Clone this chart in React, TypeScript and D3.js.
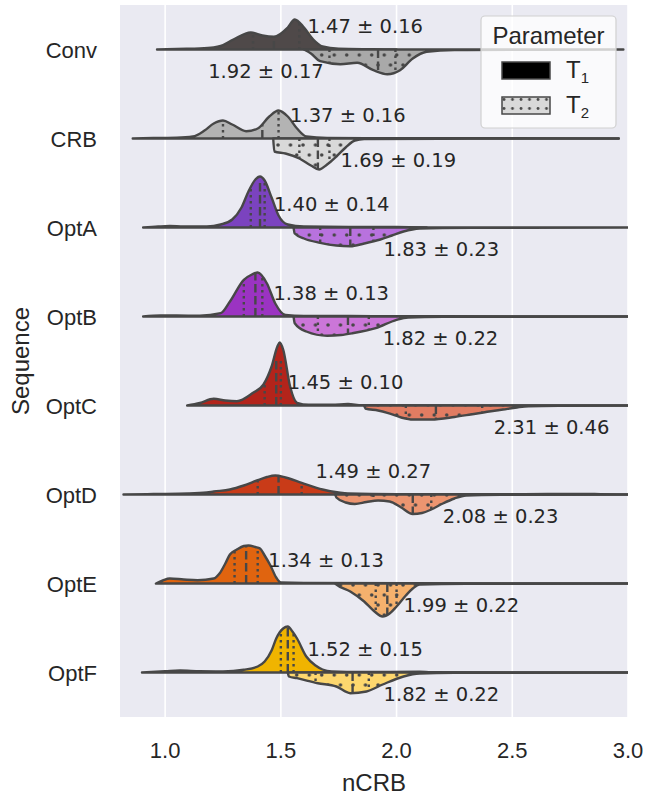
import React from "react";
import * as d3 from "d3";

// ---------- data ----------
const categories = ["Conv", "CRB", "OptA", "OptB", "OptC", "OptD", "OptE", "OptF"];

const t1Means = [1.47, 1.37, 1.4, 1.38, 1.45, 1.49, 1.34, 1.52];
const t1Stds = [0.16, 0.16, 0.14, 0.13, 0.1, 0.27, 0.13, 0.15];
const t2Means = [1.92, 1.69, 1.83, 1.82, 2.31, 2.08, 1.99, 1.82];
const t2Stds = [0.17, 0.19, 0.23, 0.22, 0.46, 0.23, 0.22, 0.22];

// quartiles [Q1, median, Q3]
const t1Quartiles = [
  [1.38, 1.47, 1.58],
  [1.25, 1.42, 1.49],
  [1.37, 1.41, 1.43],
  [1.34, 1.39, 1.42],
  [1.43, 1.48, 1.5],
  [1.4, 1.49, 1.59],
  [1.3, 1.35, 1.4],
  [1.5, 1.53, 1.555],
];
const t2Quartiles = [
  [1.71, 1.92, 1.995],
  [1.58, 1.66, 1.71],
  [1.67, 1.8, 1.9],
  [1.66, 1.79, 1.88],
  [2.04, 2.17, 2.37],
  [1.9, 2.07, 2.15],
  [1.91, 1.96, 2.0],
  [1.65, 1.81, 1.88],
];

// density profiles [nCRB, relative density]
const convT1 = [[0.965, 0], [1.05, 0.6], [1.15, 1.0], [1.21, 2], [1.24, 3.5], [1.295, 10], [1.37, 17], [1.42, 14], [1.47, 12.7], [1.53, 22], [1.56, 30], [1.6, 22], [1.64, 10], [1.68, 3], [1.75, 0.8], [1.9, 0.3], [2.0, 0]];
const convT2 = [[1.6, 0], [1.63, 4], [1.67, 11.7], [1.757, 14.7], [1.83, 13.3], [1.9, 20.7], [1.96, 24.7], [2.015, 20.7], [2.07, 9], [2.13, 2.3], [2.25, 0.6], [2.6, 0.3], [2.98, 0]];
const crbT1 = [[0.86, 0], [0.95, 0.5], [1.05, 0.8], [1.12, 2], [1.17, 8], [1.21, 15], [1.25, 18], [1.29, 14], [1.35, 7.3], [1.4, 10], [1.45, 22], [1.49, 28], [1.53, 22], [1.57, 10], [1.61, 2], [1.7, 0.5], [2.0, 0.3], [2.5, 0.2], [2.96, 0]];
const crbT2 = [[1.467, 0], [1.472, 13], [1.52, 15], [1.58, 20], [1.63, 27], [1.665, 31], [1.7, 26], [1.74, 18], [1.78, 9], [1.82, 2], [1.86, 0.5], [2.2, 0.2], [2.96, 0]];
const optAT1 = [[0.905, 0], [0.97, 1], [1.02, 1.5], [1.08, 1], [1.18, 1], [1.24, 3], [1.29, 8], [1.33, 20], [1.36, 36], [1.39, 48], [1.41, 51], [1.43, 47], [1.46, 30], [1.49, 12], [1.53, 3], [1.6, 1], [1.8, 0.6], [2.0, 0.5], [2.13, 0]];
const optAT2 = [[1.555, 0], [1.56, 6], [1.6, 11], [1.67, 15.3], [1.74, 18], [1.8, 18.7], [1.86, 16], [1.93, 12], [1.98, 8], [2.03, 4], [2.1, 1], [2.2, 0.5], [2.5, 0.3], [3.05, 0]];
const optBT1 = [[0.905, 0], [0.98, 1], [1.05, 1], [1.15, 0.8], [1.24, 3.3], [1.28, 15], [1.34, 36.7], [1.375, 42], [1.4, 44], [1.44, 33], [1.476, 13], [1.52, 1.5], [1.6, 0.6], [1.8, 0.5], [2.0, 0.3], [3.05, 0]];
const optBT2 = [[1.555, 0], [1.56, 6.7], [1.61, 15], [1.7, 19.3], [1.76, 18.5], [1.81, 16.7], [1.91, 11.7], [2.0, 3.3], [2.05, 1], [2.2, 0.4], [3.05, 0]];
const optCT1 = [[1.095, 0], [1.15, 2.5], [1.21, 6.7], [1.26, 5], [1.31, 4.3], [1.38, 12.7], [1.425, 21], [1.46, 39], [1.485, 59], [1.495, 63], [1.51, 56], [1.54, 19], [1.57, 2.7], [1.62, 0.8], [1.72, 0.8], [1.79, 1.5], [1.85, 0.3], [3.05, 0]];
const optCT2 = [[1.86, 0], [1.865, 3], [1.92, 5], [1.96, 7.3], [2.02, 12], [2.07, 14], [2.15, 14], [2.25, 11.5], [2.32, 9], [2.4, 6], [2.46, 4], [2.52, 2], [2.57, 0.8], [2.7, 0.3], [3.05, 0]];
const optDT1 = [[0.82, 0], [0.95, 0.5], [1.1, 1], [1.18, 2], [1.21, 3], [1.28, 5], [1.34, 9], [1.4, 14.3], [1.44, 17.5], [1.476, 19], [1.52, 17], [1.59, 11.7], [1.68, 5], [1.75, 2], [1.79, 1], [2.0, 0.4], [2.5, 0.3], [2.82, 0.6], [2.88, 0.3], [3.05, 0]];
const optDT2 = [[1.735, 0], [1.74, 3], [1.78, 8], [1.82, 9.5], [1.87, 7.5], [1.92, 6], [1.97, 7], [2.02, 13], [2.07, 19.5], [2.11, 18.5], [2.15, 15], [2.2, 9], [2.25, 4], [2.3, 1], [2.45, 0.4], [3.05, 0]];
const optET1 = [[0.96, 0], [0.99, 3], [1.02, 5], [1.08, 4], [1.14, 3.3], [1.21, 5], [1.235, 10], [1.26, 20], [1.28, 29], [1.31, 34], [1.34, 37.5], [1.36, 38], [1.39, 36.5], [1.41, 35], [1.43, 28], [1.455, 18], [1.48, 6], [1.5, 1], [1.6, 0.5], [3.05, 0]];
const optET2 = [[1.735, 0], [1.74, 1], [1.8, 8], [1.86, 18], [1.9, 27], [1.94, 33], [1.97, 30], [2.0, 23], [2.04, 12], [2.07, 5], [2.1, 1], [2.3, 0.3], [3.05, 0]];
const optFT1 = [[0.9, 0], [1.0, 1.2], [1.065, 2], [1.15, 1.2], [1.25, 1], [1.34, 2.7], [1.4, 6], [1.43, 11], [1.46, 22], [1.48, 34], [1.51, 44], [1.53, 46], [1.55, 41], [1.57, 34], [1.61, 16], [1.65, 7], [1.68, 3], [1.72, 1], [1.85, 0.5], [2.1, 0.8], [2.15, 0.3], [3.05, 0]];
const optFT2 = [[1.53, 0], [1.535, 4], [1.57, 5.7], [1.66, 10.7], [1.74, 14], [1.8, 20.7], [1.87, 19], [1.94, 12], [2.03, 4], [2.1, 1], [2.25, 0.3], [3.05, 0]];

const t1Profiles = [convT1, crbT1, optAT1, optBT1, optCT1, optDT1, optET1, optFT1];
const t2Profiles = [convT2, crbT2, optAT2, optBT2, optCT2, optDT2, optET2, optFT2];

// annotation anchors (nCRB units)
const t1LabelX = [1.615, 1.54, 1.47, 1.468, 1.53, 1.65, 1.446, 1.615];
const t2LabelX = [1.186, 1.758, 1.944, 1.94, 2.42, 2.2, 2.03, 1.944];

const xTicks = [1.0, 1.5, 2.0, 2.5, 3.0];

// palette
const t1Colors = ["#4f4949", "#b3b3b3", "#7b43bf", "#9b33c2", "#b3241b", "#c93b18", "#e0640f", "#f0b400"];
const t2Colors = ["#a9a9a9", "#d9d9d9", "#b872de", "#cb76d8", "#e17c62", "#ec9570", "#f5b16d", "#fdd76e"];

const EDGE = "#474747";
const TEXT = "#262626";
const SANS = "'Liberation Sans', Arial, sans-serif";
const DEJAVU = "'DejaVu Sans', sans-serif";

export default function App() {
  const plotL = 120, plotR = 628, plotT = 5, plotB = 717;
  const x = d3.scaleLinear().domain([0.805, 3.0]).range([plotL, plotR]);
  const y = d3.scaleBand<string>().domain(categories).range([plotT, plotB]);
  const dens = d3.scaleLinear().domain([0, 10]).range([0, 10]);
  const half = y.bandwidth() / 2;

  const makeArea = (cy: number, sign: number) =>
    d3
      .area<number[]>()
      .x((d) => x(d[0]))
      .y0(cy)
      .y1((d) => cy + sign * dens(d[1]))
      .curve(d3.curveMonotoneX);

  const violins = categories.map((cat, i) => {
    const cy = (y(cat) as number) + half;
    const p1 = makeArea(cy, -1)(t1Profiles[i] as any) as string;
    const p2 = makeArea(cy, 1)(t2Profiles[i] as any) as string;
    return { cat, i, cy, p1, p2 };
  });

  const quartileLines = (qs: number[], cy: number, sign: number, key: string) =>
    qs.map((q, k) => (
      <line
        key={key + k}
        x1={x(q)}
        x2={x(q)}
        y1={cy}
        y2={cy + sign * half}
        stroke={EDGE}
        strokeWidth={2.4}
        strokeDasharray={k === 1 ? "8.5,3.5" : "2.4,3.6"}
      />
    ));

  return (
    <svg
      width={645}
      height={796}
      style={{ position: "absolute", left: 0, top: 0, background: "#ffffff" }}
    >
      <defs>
        <clipPath id="plotclip">
          <rect x={plotL} y={plotT} width={plotR - plotL} height={plotB - plotT} />
        </clipPath>
        <pattern id="dots" patternUnits="userSpaceOnUse" width={12.5} height={20}>
          <circle cx={3} cy={5} r={1.8} fill={EDGE} />
          <circle cx={9.25} cy={15} r={1.8} fill={EDGE} />
        </pattern>
        <pattern id="legdots" patternUnits="userSpaceOnUse" width={8.5} height={9} x={502} y={97}>
          <circle cx={2} cy={2.5} r={1.4} fill={EDGE} />
        </pattern>
        {violins.map((v) => (
          <React.Fragment key={"cp" + v.i}>
            <clipPath id={"c1-" + v.i}>
              <path d={v.p1} />
            </clipPath>
            <clipPath id={"c2-" + v.i}>
              <path d={v.p2} />
            </clipPath>
          </React.Fragment>
        ))}
      </defs>

      <rect x={plotL} y={plotT} width={plotR - plotL} height={plotB - plotT} fill="#eaeaf2" />
      {xTicks.map((t) => (
        <line key={"g" + t} x1={x(t)} x2={x(t)} y1={plotT} y2={plotB} stroke="#ffffff" strokeWidth={1.6} />
      ))}

      <g clipPath="url(#plotclip)">
        {violins.map((v) => (
          <g key={"v" + v.i}>
            <path d={v.p1} fill={t1Colors[v.i]} />
            <g clipPath={`url(#c1-${v.i})`}>{quartileLines(t1Quartiles[v.i], v.cy, -1, "q1" + v.i)}</g>
            <path d={v.p1} fill="none" stroke={EDGE} strokeWidth={2.4} strokeLinejoin="round" />
            <path d={v.p2} fill={t2Colors[v.i]} />
            <path d={v.p2} fill="url(#dots)" />
            <g clipPath={`url(#c2-${v.i})`}>{quartileLines(t2Quartiles[v.i], v.cy, 1, "q2" + v.i)}</g>
            <path d={v.p2} fill="none" stroke={EDGE} strokeWidth={2.4} strokeLinejoin="round" />
          </g>
        ))}
      </g>

      {violins.map((v) => (
        <g key={"t" + v.i} fontFamily={DEJAVU} fontSize={19.5} fill={TEXT}>
          <text x={x(t1LabelX[v.i])} y={v.cy - 17}>
            {`${t1Means[v.i].toFixed(2)} ± ${t1Stds[v.i].toFixed(2)}`}
          </text>
          <text x={x(t2LabelX[v.i])} y={v.cy + 28}>
            {`${t2Means[v.i].toFixed(2)} ± ${t2Stds[v.i].toFixed(2)}`}
          </text>
        </g>
      ))}

      {/* y axis category labels */}
      {violins.map((v) => (
        <text key={"yl" + v.i} x={97} y={v.cy + 8} textAnchor="end" fontFamily={SANS} fontSize={22} fill={TEXT}>
          {v.cat}
        </text>
      ))}
      <text
        transform={`translate(29, ${(plotT + plotB) / 2}) rotate(-90)`}
        textAnchor="middle"
        fontFamily={SANS}
        fontSize={24}
        fill={TEXT}
      >
        Sequence
      </text>

      {/* x axis */}
      {xTicks.map((t) => (
        <text key={"xt" + t} x={x(t)} y={758} textAnchor="middle" fontFamily={SANS} fontSize={22} fill={TEXT}>
          {t.toFixed(1)}
        </text>
      ))}
      <text x={(plotL + plotR) / 2} y={791} textAnchor="middle" fontFamily={SANS} fontSize={24} fill={TEXT}>
        nCRB
      </text>

      {/* legend */}
      <g>
        <rect x={481} y={16} width={135} height={112} rx={4} fill="#ffffff" fillOpacity={0.75} stroke="#d0d0d0" strokeWidth={1.2} />
        <text x={548.5} y={44} textAnchor="middle" fontFamily={SANS} fontSize={24} fill={TEXT}>
          Parameter
        </text>
        <rect x={502} y={62} width={48} height={17} fill="#000000" stroke={EDGE} strokeWidth={1.5} />
        <rect x={502} y={97} width={48} height={17} fill="#d9d9d9" />
        <rect x={502} y={97} width={48} height={17} fill="url(#legdots)" stroke={EDGE} strokeWidth={1.5} />
        <text x={566} y={78} fontFamily={SANS} fontSize={24} fill={TEXT}>
          T<tspan fontSize={15} dy={5}>1</tspan>
        </text>
        <text x={566} y={113} fontFamily={SANS} fontSize={24} fill={TEXT}>
          T<tspan fontSize={15} dy={5}>2</tspan>
        </text>
      </g>
    </svg>
  );
}
